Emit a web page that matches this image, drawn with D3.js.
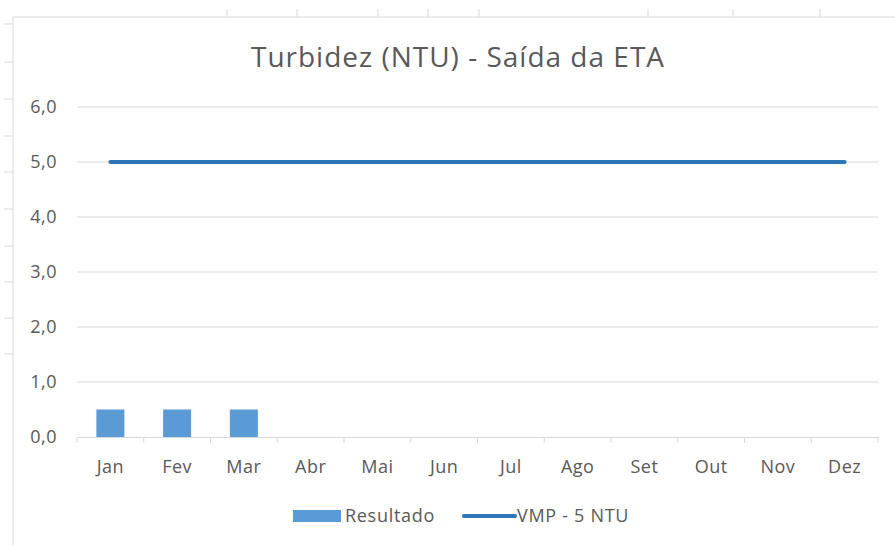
<!DOCTYPE html>
<html>
<head>
<meta charset="utf-8">
<script src="https://cdn.jsdelivr.net/npm/d3@7"></script>
<style>
  body { margin: 0; background: #fff; }
  text { font-family: "Open Sans", "Liberation Sans", sans-serif; fill: #595959; }
</style>
</head>
<body>
<div id="chart"></div>
<script>
// dados do gráfico
const months = ["Jan", "Fev", "Mar", "Abr", "Mai", "Jun", "Jul", "Ago", "Set", "Out", "Nov", "Dez"];
const resultado = [0.5, 0.5, 0.5, null, null, null, null, null, null, null, null, null];
const vmp = [5, 5, 5, 5, 5, 5, 5, 5, 5, 5, 5, 5];
const yTicks = [0, 1, 2, 3, 4, 5, 6];

const width = 895, height = 545;
const svg = d3.select("#chart").append("svg")
    .attr("width", width)
    .attr("height", height);

// moldura da planilha (bordas e marcas de células)
const frame = svg.append("g").attr("stroke", "#d9d9d9").attr("fill", "none");
frame.append("line").attr("x1", 13).attr("x2", 13).attr("y1", 17).attr("y2", height);
frame.append("line").attr("x1", 13).attr("x2", width).attr("y1", 17).attr("y2", 17);
[24, 62, 99, 136, 172, 209, 246, 282, 318, 354].forEach(y => {
    frame.append("line").attr("x1", 4).attr("x2", 13).attr("y1", y).attr("y2", y);
});
[227, 297, 378, 428, 479, 648, 733, 820].forEach(x => {
    frame.append("line").attr("x1", x).attr("x2", x).attr("y1", 9).attr("y2", 17);
});

const x = d3.scaleBand().domain(months).range([77, 878]);
const y = d3.scaleLinear().domain([0, 6]).range([437, 107]);

// linhas de grade
svg.append("g")
    .selectAll("line")
    .data(yTicks.filter(d => d > 0))
    .enter().append("line")
    .attr("x1", 77).attr("x2", 878)
    .attr("y1", d => y(d)).attr("y2", d => y(d))
    .attr("stroke", "#d9d9d9")
    .attr("stroke-width", 1);

// eixo Y (rótulos)
svg.append("g")
    .selectAll("text")
    .data(yTicks)
    .enter().append("text")
    .attr("x", 57)
    .attr("y", d => y(d))
    .attr("dy", "0.35em")
    .attr("text-anchor", "end")
    .attr("font-size", 18)
    .attr("letter-spacing", 0.5)
    .text(d => d3.format(".1f")(d).replace(".", ","));

// eixo X
const xAxis = svg.append("g").attr("transform", "translate(0,437)")
    .call(d3.axisBottom(x).tickSize(0).tickPadding(23));
xAxis.select(".domain").attr("stroke", "#d9d9d9");
xAxis.selectAll("text").attr("font-size", 18).attr("fill", "#595959")
    .attr("letter-spacing", 0.5)
    .style("font-family", "'Open Sans', 'Liberation Sans', sans-serif");
// marcas entre categorias
svg.append("g")
    .selectAll("line")
    .data(months.concat(["_end"]))
    .enter().append("line")
    .attr("x1", (d, i) => 77 + i * x.step())
    .attr("x2", (d, i) => 77 + i * x.step())
    .attr("y1", 437).attr("y2", 443)
    .attr("stroke", "#d9d9d9");

// barras
const barW = 28;
svg.append("g")
    .selectAll("rect")
    .data(months.map((m, i) => ({ m, v: resultado[i] })).filter(d => d.v != null))
    .enter().append("rect")
    .attr("x", d => x(d.m) + x.bandwidth() / 2 - barW / 2)
    .attr("y", d => y(d.v))
    .attr("width", barW)
    .attr("height", d => y(0) - y(d.v))
    .attr("fill", "#5b9bd5");

// linha VMP
const line = d3.line()
    .x((d, i) => x(months[i]) + x.bandwidth() / 2)
    .y(d => y(d));
svg.append("path")
    .datum(vmp)
    .attr("d", line)
    .attr("fill", "none")
    .attr("stroke", "#2e75b6")
    .attr("stroke-width", 4)
    .attr("stroke-linecap", "round");

// título
svg.append("text")
    .attr("x", 458)
    .attr("y", 67)
    .attr("text-anchor", "middle")
    .attr("font-size", 28)
    .attr("letter-spacing", 1)
    .text("Turbidez (NTU) - Saída da ETA");

// legenda
const leg = svg.append("g");
leg.append("rect").attr("x", 293).attr("y", 510).attr("width", 48).attr("height", 12).attr("fill", "#5b9bd5");
leg.append("text").attr("x", 345).attr("y", 516).attr("dy", "0.35em").attr("font-size", 18)
    .attr("letter-spacing", 0.7).text("Resultado");
leg.append("line").attr("x1", 464).attr("x2", 515).attr("y1", 516).attr("y2", 516)
    .attr("stroke", "#2e75b6").attr("stroke-width", 4).attr("stroke-linecap", "round");
leg.append("text").attr("x", 517).attr("y", 516).attr("dy", "0.35em").attr("font-size", 18)
    .attr("letter-spacing", 0.7).text("VMP - 5 NTU");
</script>
</body>
</html>
